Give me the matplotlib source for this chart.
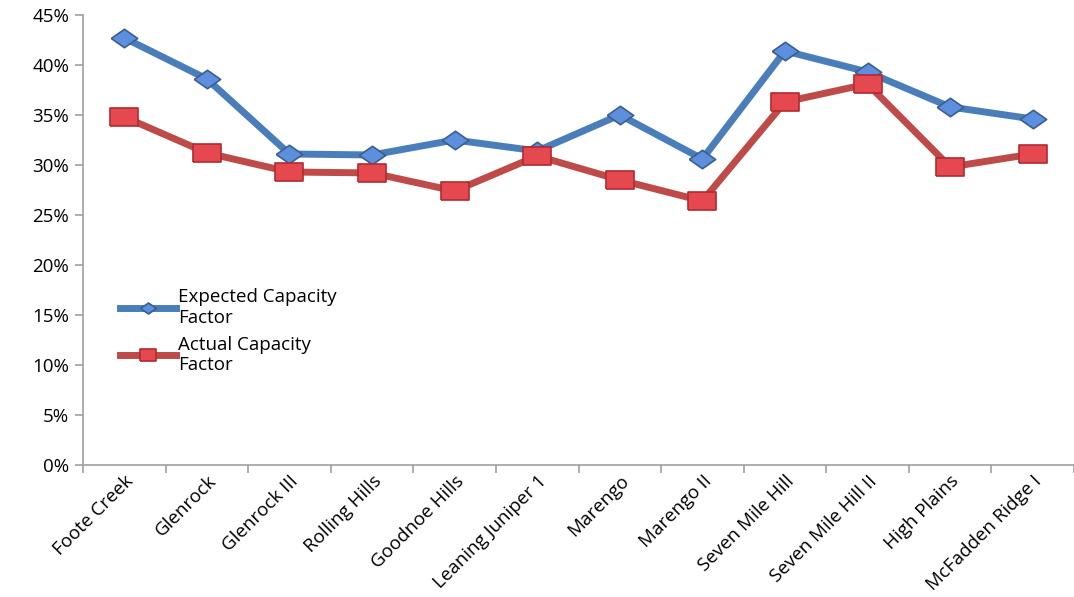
import numpy as np
import matplotlib
matplotlib.use('Agg')
import matplotlib.pyplot as plt
from matplotlib.ticker import PercentFormatter

plt.rcParams['font.family'] = ['Open Sans', 'DejaVu Sans']

# wind farm capacity factors (%)
sites = ['Foote Creek', 'Glenrock', 'Glenrock III', 'Rolling Hills', 'Goodnoe Hills',
         'Leaning Juniper 1', 'Marengo', 'Marengo II', 'Seven Mile Hill',
         'Seven Mile Hill II', 'High Plains', 'McFadden Ridge I']
expected = [42.7, 38.6, 31.1, 31.0, 32.5, 31.4, 35.0, 30.6, 41.4, 39.3, 35.8, 34.6]
actual = [34.8, 31.2, 29.3, 29.2, 27.4, 30.9, 28.5, 26.4, 36.3, 38.1, 29.8, 31.1]

# flattened diamond and rectangle markers like the Excel chart
diamond = [(-1, 0), (0, 0.7), (1, 0), (0, -0.7), (-1, 0)]
rect = [(-1, -0.68), (1, -0.68), (1, 0.68), (-1, 0.68), (-1, -0.68)]

fs = 13.5

fig = plt.figure(figsize=(10.74, 5.97), dpi=100)
ax = fig.add_axes([0.0773, 0.221, 0.9227, 0.754])

x = np.arange(len(sites))
ax.plot(x, expected, color='#4A7EBB', lw=5, marker=diamond, ms=19,
        mfc='#5C8FDD', mec='#3A5F8E', mew=1.2, solid_joinstyle='round',
        label='Expected Capacity\nFactor', zorder=3)
ax.plot(x, actual, color='#BE4B48', lw=5, marker=rect, ms=20,
        mfc='#E5484E', mec='#B02A30', mew=1.2, solid_joinstyle='round',
        label='Actual Capacity\nFactor', zorder=4)

ax.set_xlim(-0.5, len(sites) - 0.5)
ax.set_ylim(0, 45)
ax.set_yticks(np.arange(0, 46, 5))
ax.yaxis.set_major_formatter(PercentFormatter(decimals=0))

ax.set_xticks(x)
ax.set_xticklabels(sites, rotation=45, ha='right', rotation_mode='anchor', fontsize=fs)
ax.set_xticks(np.arange(-0.5, len(sites), 1), minor=True)
ax.tick_params(axis='x', which='major', length=0, pad=5)
ax.tick_params(axis='x', which='minor', length=6, color='#A0A0A0', width=1.2)
ax.tick_params(axis='y', length=6, color='#A0A0A0', width=1.2, labelsize=fs, pad=4)

for s in ['top', 'right']:
    ax.spines[s].set_visible(False)
for s in ['left', 'bottom']:
    ax.spines[s].set_color('#A0A0A0')
    ax.spines[s].set_linewidth(1.2)

ax.legend(loc='upper left', bbox_to_anchor=(0.02, 0.43), frameon=False,
          fontsize=fs, handlelength=3.0, handletextpad=0.1, labelspacing=0.45,
          markerscale=0.6)

fig.savefig('out.png', dpi=100)
